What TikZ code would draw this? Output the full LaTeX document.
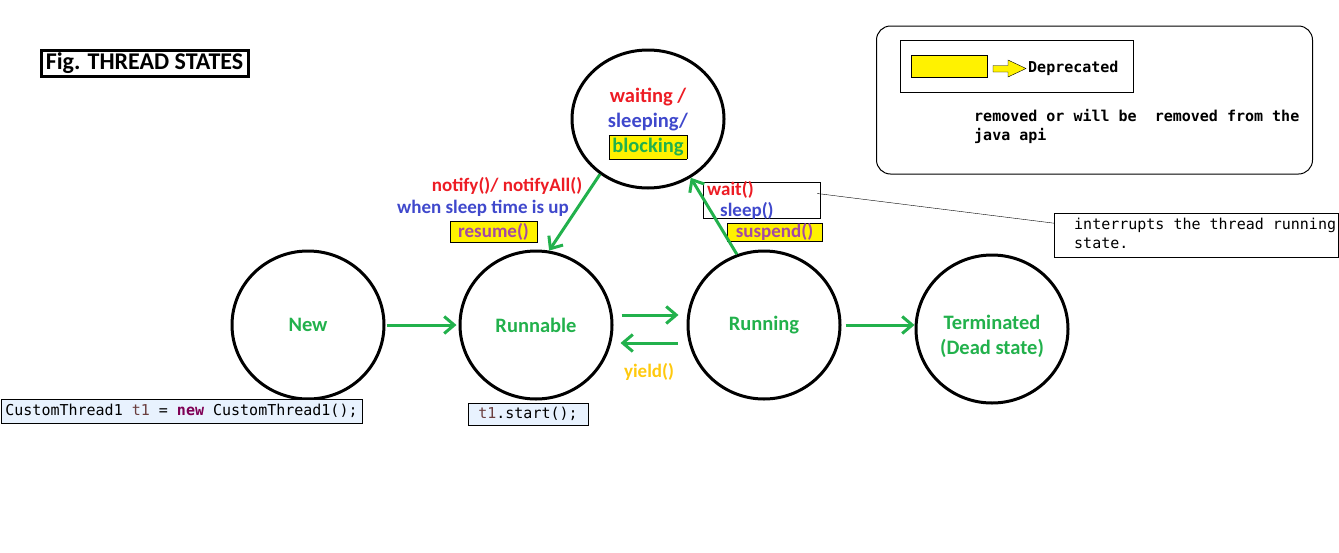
\documentclass[tikz,border=0pt]{standalone}
\usepackage{fontspec}
\setmainfont{Carlito}
\newfontfamily\monofont{DejaVu Sans Mono}
\usetikzlibrary{positioning}
\usetikzlibrary{shapes.geometric}
\usetikzlibrary{arrows.meta}

\definecolor{pred}{HTML}{ED1C24}
\definecolor{pblue}{HTML}{3F48CC}
\definecolor{pgreen}{HTML}{22B14C}
\definecolor{ppurple}{HTML}{A349A4}
\definecolor{pyellow}{HTML}{FFF200}
\definecolor{pyield}{HTML}{FFC90E}
\definecolor{codebg}{HTML}{E8F2FE}
\definecolor{tvar}{HTML}{6A3E3E}
\definecolor{kw}{HTML}{7F0055}

\newcommand{\statefont}{\bfseries\fontsize{20.5}{25}\selectfont}
\newcommand{\lblfont}{\bfseries\fontsize{19}{23}\selectfont}
\newcommand{\titlefont}{\bfseries\fontsize{24}{28}\selectfont}
\newcommand{\codefont}{\monofont\fontsize{15}{19}\selectfont}

\tikzset{
  state/.style={ellipse, draw, line width=3pt, minimum width=152pt, minimum height=148pt,
    inner sep=0pt, align=center, font=\statefont, text=pgreen},
  move/.style={draw=pgreen, line width=3pt, -{Straight Barb[length=10pt,width=17pt]}},
  lbl/.style={font=\lblfont, inner sep=0pt},
  depr/.style={draw, fill=pyellow, font=\lblfont, text=ppurple, inner sep=0pt},
  codebox/.style={draw, fill=codebg, font=\codefont, inner sep=0pt},
  monotxt/.style={font=\codefont, inner sep=0pt, align=left},
}

\begin{document}
\begin{tikzpicture}[x=1pt,y=-1pt,node distance=73pt]
	\useasboundingbox (0,0) rectangle (1339,552);
	\setlength{\fboxsep}{3pt}%
	% states
	\node[state] (New) at (308,325) {New};%
	\node[state,right=of New] (Runnable) {Runnable};%
	\node[state,right=of Runnable] (Running) {Running};%
	\node[state,right=of Running,yshift=-4pt] (Terminated) {\mbox{}\\[4.5pt]Terminated\\(Dead state)};%
	\node[state,minimum height=138pt] (Waiting) at (648,119) {\mbox{}\\[-1.5pt]\textcolor{pred}{waiting /}\\\textcolor{pblue}{sleeping/}\\\fcolorbox{black}{pyellow}{\textcolor{pgreen}{blocking}}};%
	
	% title and code
	\node[draw,line width=3pt,font=\titlefont,inner sep=0pt,minimum width=207pt,minimum height=26pt] (title) at (144.5,63) {Fig. THREAD STATES};%
	\node[codebox,minimum width=361pt,minimum height=24pt] (newCode) at (181.5,411) {CustomThread1 \textcolor{tvar}{t1} = \textcolor{kw}{\bfseries new} CustomThread1();};%
	\node[codebox,minimum width=120pt,minimum height=22pt] (startCode) at (528,414) {\textcolor{tvar}{t1}.start();};%
	
	% labels
	\node[lbl,text=pred] (notifyLbl) at (507,186) {notify()/ notifyAll()};%
	\node[lbl,text=pblue] (sleepUpLbl) at (483,208) {when sleep time is up};%
	\node[depr,minimum width=87pt,minimum height=21pt] (resumeLbl) at (493.5,231.5) {resume()};%
	\node[draw,minimum width=117pt,minimum height=36pt] (waitBox) at (761.5,200.5) {};%
	\node[lbl,text=pred,anchor=west] (waitLbl) at (707,190) {wait()};%
	\node[lbl,text=pblue,anchor=west] (sleepLbl) at (720,211) {sleep()};%
	\node[depr,minimum width=95pt,minimum height=18pt] (suspendLbl) at (774.5,232) {suspend()};%
	\node[lbl,text=pyield] (yieldLbl) at (649,372) {yield()};%
	
	% note
	\node[draw,anchor=north west,minimum width=284pt,minimum height=44pt] (noteBox) at (1054,213) {};%
	\node[monotxt,anchor=north west] (noteLbl) at (1074,218) {interrupts the thread running\\state.};%
	\draw ([xshift=-3pt,yshift=7pt]waitBox.east) -- ([yshift=12pt]noteBox.west);
	
	% legend
	\node[draw,line width=1pt,rounded corners=14pt,minimum width=436pt,minimum height=148pt] (legendBox) at (1094.5,100) {};%
	\node[draw,minimum width=233pt,minimum height=52pt] (keyBox) at (1016.5,66) {};%
	\node[draw,fill=pyellow,minimum width=76pt,minimum height=22pt] (swatch) at (949,66) {};%
	\filldraw[fill=pyellow] (993,65.5) -- (1008,65.5) -- (1008,60) -- (1026,68.5) -- (1008,77) -- (1008,72) -- (993,72) -- cycle;
	\node[monotxt,font=\codefont\bfseries,anchor=west] (deprLbl) at (1028,68) {Deprecated};%
	\node[monotxt,font=\codefont\bfseries,anchor=north west] (removedLbl) at (974,109) {removed or will be\ \ removed from the\\java api};%
	
	% edges
	\draw[move,shorten <=1pt,shorten >=2pt] (New) -- (Runnable);
	\draw[move,shorten <=8pt,shorten >=8pt] ([yshift=10pt]Runnable.east) -- ([yshift=10pt]Running.west);
	\draw[move,shorten <=9pt,shorten >=7pt] ([yshift=-18pt]Running.west) -- ([yshift=-18pt]Runnable.east);
	\draw[move,shorten <=4pt] (Running.east) -- (Running.east -| Terminated.west);
	\draw[move] (Waiting.229) -- (Runnable.80);
	\draw[move] (Running.111) -- (Waiting.306);
\end{tikzpicture}
\end{document}
